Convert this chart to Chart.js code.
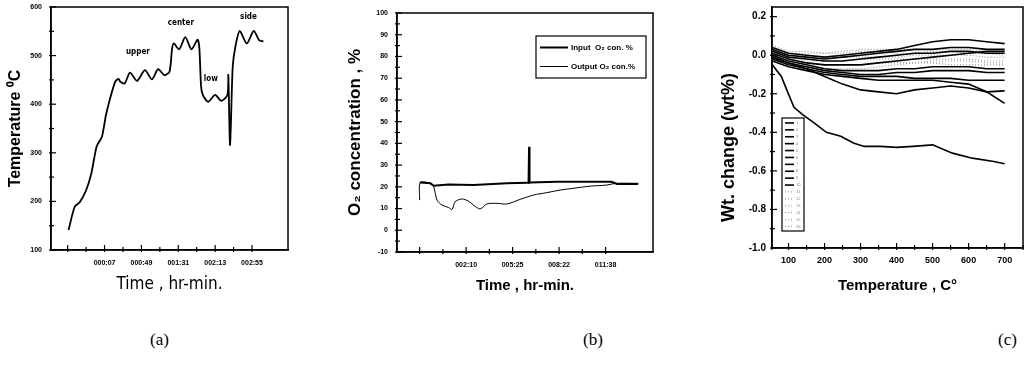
<!DOCTYPE html>
<html>
<head>
<meta charset="utf-8">
<script src="https://cdn.jsdelivr.net/npm/chart.js@4/dist/chart.umd.min.js"></script>
<style>
  body { margin: 0; background: #fff; width: 1026px; height: 374px; position: relative; overflow: hidden; }
  canvas { position: absolute; top: 0; }
  .cap { position: absolute; top: 330px; font: 17px 'Liberation Serif', 'DejaVu Serif', serif; color: #000; }
</style>
</head>
<body>
<canvas id="chartA" width="330" height="300" style="left:0"></canvas>
<canvas id="chartB" width="340" height="300" style="left:340px"></canvas>
<canvas id="chartC" width="346" height="300" style="left:680px"></canvas>
<div class="cap" style="left:150px">(a)</div>
<div class="cap" style="left:583px">(b)</div>
<div class="cap" style="left:998px">(c)</div>
<script>
// (a) temperature vs time, minutes
const aTime = [-34, -27, -21, -14, -8, -2, 4, 9, 19, 23, 25, 30, 36, 44, 53, 61, 68, 75, 81, 84, 86, 92, 99, 106, 113, 115, 117, 119, 125, 133, 140, 147, 148, 150, 153, 156, 161, 169, 177, 183, 188];
const aTemp = [141, 189, 199, 223, 258, 313, 333, 381, 446, 452, 446, 443, 465, 448, 470, 451, 472, 460, 467, 515, 525, 513, 538, 513, 533, 516, 436, 419, 405, 419, 407, 419, 460, 316, 477, 518, 551, 525, 551, 532, 529];
const aTickValues = [-35, 7, 49, 91, 133, 175];
const aTickLabels = ['', '000:07', '000:49', '001:31', '002:13', '002:55'];
const aNoteText = ['upper', 'center', 'low', 'side'];
const aNoteTime = [45, 94, 128, 171];
const aNoteTemp = [507, 567, 452, 580];

// (b) O2 concentration vs time, minutes
const bInputTime = [0, 3, 45, 59, 121, 226, 366, 449, 457, 459, 461, 463, 575, 805, 828, 917];
const bInput = [22, 22, 21.6, 20.5, 21.1, 20.8, 21.6, 21.9, 21.9, 38.4, 21.9, 22, 22.3, 22.3, 21.3, 21.3];
const bOutputTime = [0, 3, 45, 59, 73, 94, 121, 136, 149, 177, 205, 226, 254, 282, 324, 366, 421, 477, 533, 589, 644, 714, 784, 823, 917];
const bOutput = [13.9, 21.9, 21.6, 20, 13.9, 11.6, 10.5, 9.6, 13.1, 14.4, 13.4, 11.6, 9.8, 12.1, 12.4, 12.1, 14.2, 16.2, 17.3, 18.5, 19.3, 20.3, 20.8, 21.6, 21.6];
const bTickValues = [0, 195, 390, 585, 780];
const bTickLabels = ['', '002:10', '005:25', '008:22', '011:38'];

// (c) weight change vs temperature
const cTemp = [55, 100, 150, 200, 250, 300, 350, 400, 450, 500, 550, 600, 650, 700];
const c1 = [0.04, 0.01, 0.00, -0.01, 0.00, 0.01, 0.02, 0.03, 0.05, 0.07, 0.08, 0.08, 0.07, 0.06];
const c2 = [0.03, 0.00, -0.01, -0.02, -0.01, 0.00, 0.01, 0.02, 0.03, 0.03, 0.04, 0.04, 0.03, 0.03];
const c3 = [0.02, -0.01, -0.02, -0.03, -0.03, -0.02, -0.01, 0.00, 0.01, 0.01, 0.02, 0.02, 0.01, 0.01];
const c4 = [0.01, -0.02, -0.04, -0.05, -0.05, -0.05, -0.04, -0.03, -0.02, -0.01, 0.00, 0.01, 0.02, 0.02];
const c5 = [0.00, -0.03, -0.05, -0.07, -0.08, -0.08, -0.08, -0.07, -0.07, -0.06, -0.06, -0.06, -0.07, -0.07];
const c6 = [-0.01, -0.04, -0.06, -0.08, -0.09, -0.10, -0.10, -0.09, -0.09, -0.08, -0.08, -0.08, -0.09, -0.09];
const c7 = [-0.02, -0.05, -0.07, -0.09, -0.10, -0.11, -0.11, -0.11, -0.12, -0.12, -0.12, -0.13, -0.13, -0.13];
const c8 = [-0.03, -0.06, -0.08, -0.10, -0.11, -0.12, -0.13, -0.13, -0.13, -0.13, -0.14, -0.15, -0.19, -0.25];
const c9 = [-0.01, -0.04, -0.07, -0.11, -0.15, -0.18, -0.19, -0.20, -0.18, -0.17, -0.16, -0.17, -0.19, -0.185];
const c11 = [0.03, 0.01, 0.01, 0.01, 0.02, 0.03, 0.03, 0.03, 0.03, 0.03, 0.03, 0.03, 0.02, 0.02];
const c12 = [0.02, 0.00, -0.01, -0.01, -0.01, -0.01, -0.01, -0.01, 0.00, 0.00, 0.00, 0.00, -0.01, -0.01];
const c13 = [0.01, -0.02, -0.03, -0.03, -0.03, -0.02, -0.02, -0.02, -0.02, -0.02, -0.02, -0.02, -0.03, -0.03];
const c14 = [0.00, -0.03, -0.04, -0.05, -0.05, -0.05, -0.04, -0.04, -0.04, -0.04, -0.05, -0.05, -0.05, -0.05];
const c15 = [0.05, 0.02, 0.02, 0.01, 0.01, 0.02, 0.02, 0.01, 0.01, 0.02, 0.02, 0.01, 0.01, 0.00];
const c16 = [-0.02, -0.04, -0.06, -0.07, -0.07, -0.07, -0.06, -0.05, -0.04, -0.03, -0.03, -0.03, -0.04, -0.04];
const cLowTemp = [55, 80, 95, 115, 140, 170, 205, 245, 280, 310, 355, 400, 445, 500, 555, 610, 670, 700];
const cLow = [-0.05, -0.11, -0.18, -0.27, -0.31, -0.35, -0.40, -0.42, -0.455, -0.473, -0.473, -0.478, -0.473, -0.465, -0.508, -0.534, -0.551, -0.563];
const cLabels = ['1', '2', '3', '4', '5', '6', '7', '8', '9', '10', '11', '12', '13', '14', '15', '16'];
const cYTickValues = [-1.0, -0.8, -0.6, -0.4, -0.2, 0.0, 0.2];
const cYTickLabels = ['-1.0', '-0.8', '-0.6', '-0.4', '-0.2', '0.0', '0.2'];

Chart.defaults.font.family = "'Liberation Sans', Arial, sans-serif";
Chart.defaults.color = '#000';
Chart.defaults.animation = false;

// box round the plot, with inward tick marks taken from the scales
const frame = {
  id: 'frame',
  afterDraw(chart) {
    const { left, top, right, bottom } = chart.chartArea;
    const ctx = chart.ctx;
    ctx.save();
    ctx.strokeStyle = '#000';
    ctx.lineWidth = 1.5;
    ctx.strokeRect(left, top, right - left, bottom - top);
    ctx.lineWidth = 1.2;
    ['x', 'y'].forEach(id => {
      const s = chart.scales[id];
      s.ticks.forEach(t => {
        const major = t.major || (t.label !== '' && t.label !== undefined);
        const len = major ? 5 : 3;
        const p = s.getPixelForValue(t.value);
        ctx.beginPath();
        if (id === 'x') {
          ctx.moveTo(p, bottom + 2);
          ctx.lineTo(p, bottom - len);
        } else {
          ctx.moveTo(left - 2, p);
          ctx.lineTo(left + len, p);
        }
        ctx.stroke();
      });
    });
    ctx.restore();
  }
};

const notes = {
  id: 'notes',
  afterDatasetsDraw(chart, args, opts) {
    const ctx = chart.ctx;
    const xs = chart.scales.x, ys = chart.scales.y;
    ctx.save();
    ctx.font = opts.font;
    ctx.fillStyle = '#000';
    ctx.textAlign = 'center';
    ctx.textBaseline = 'middle';
    opts.text.forEach((t, i) => {
      ctx.fillText(t, xs.getPixelForValue(opts.x[i]), ys.getPixelForValue(opts.y[i]));
    });
    ctx.restore();
  }
};

const boxLegend = {
  id: 'boxLegend',
  afterDatasetsDraw(chart, args, o) {
    const ctx = chart.ctx;
    ctx.save();
    ctx.fillStyle = '#fff';
    ctx.fillRect(o.x, o.y, o.w, o.h);
    ctx.strokeStyle = '#000';
    ctx.lineWidth = o.borderWidth;
    ctx.strokeRect(o.x, o.y, o.w, o.h);
    chart.data.datasets.forEach((ds, i) => {
      const cy = o.y + o.pad + o.rowH * (i + 0.5);
      ctx.beginPath();
      ctx.setLineDash(ds.borderDash || []);
      ctx.lineWidth = ds.borderWidth;
      ctx.strokeStyle = ds.borderColor;
      ctx.moveTo(o.x + o.inset, cy);
      ctx.lineTo(o.x + o.inset + o.lineLen, cy);
      ctx.stroke();
      ctx.setLineDash([]);
      ctx.fillStyle = o.textColor;
      ctx.font = o.font;
      ctx.textBaseline = 'middle';
      ctx.fillText(ds.label, o.x + o.inset + o.lineLen + o.gap, cy);
    });
    ctx.restore();
  }
};

function pairs(xs, ys) {
  return xs.map((x, i) => ({ x: x, y: ys[i] }));
}

// the gap between axis and labels comes from an invisible tick, so the
// label padding does not push the plot area down
function axisBase(size, gap) {
  return {
    grid: { display: true, drawOnChartArea: false, drawTicks: true, tickLength: gap, tickColor: 'rgba(0,0,0,0)' },
    border: { display: true, color: '#000', width: 1.5 },
    ticks: { autoSkip: false, maxRotation: 0, padding: 0, font: { size: size, weight: 'bold' } }
  };
}

function majorMinor(values) {
  const out = [];
  values.forEach((v, i) => {
    out.push({ value: v, major: true });
    if (i < values.length - 1) out.push({ value: (v + values[i + 1]) / 2 });
  });
  return out;
}

function labelFor(values, labels) {
  return v => {
    const i = values.findIndex(t => Math.abs(t - v) < 1e-6);
    return i >= 0 ? labels[i] : '';
  };
}

// ---- (a)
const axA_x = axisBase(7, 9);
const axA_y = axisBase(7, 9);
new Chart(document.getElementById('chartA'), {
  type: 'line',
  data: {
    datasets: [{
      data: pairs(aTime, aTemp),
      borderColor: '#000',
      borderWidth: 1.8,
      pointRadius: 0,
      tension: 0.25
    }]
  },
  options: {
    responsive: false,
    layout: { padding: { top: 7, right: 42, left: 0, bottom: 0 } },
    plugins: {
      legend: { display: false },
      tooltip: { enabled: false },
      notes: { text: aNoteText, x: aNoteTime, y: aNoteTemp, font: "bold 8px 'DejaVu Sans Condensed', 'Liberation Sans', sans-serif" }
    },
    scales: {
      x: Object.assign(axA_x, {
        type: 'linear', min: -54, max: 216,
        afterBuildTicks: s => { s.ticks = majorMinor(aTickValues); },
        afterFit: s => { s.height = 50; },
        ticks: Object.assign(axA_x.ticks, { callback: labelFor(aTickValues, aTickLabels) }),
        title: { display: true, text: 'Time , hr-min.', padding: { bottom: 5 },
          font: { size: 17, family: "'DejaVu Sans Condensed', 'Liberation Sans', sans-serif" } }
      }),
      y: Object.assign(axA_y, {
        min: 100, max: 600,
        afterFit: s => { s.width = 51; },
        ticks: Object.assign(axA_y.ticks, { stepSize: 50, callback: v => (v % 100 === 0 ? v : '') }),
        title: { display: true, text: 'Temperature \u2070C', padding: { top: 6 }, font: { size: 16, weight: 'bold' } }
      })
    }
  },
  plugins: [frame, notes]
});

// ---- (b)
const axB_x = axisBase(7, 9);
const axB_y = axisBase(7, 9);
new Chart(document.getElementById('chartB'), {
  type: 'line',
  data: {
    datasets: [
      { label: 'Input  O\u2082 con. %', data: pairs(bInputTime, bInput), borderColor: '#000', borderWidth: 2, pointRadius: 0 },
      { label: 'Output O\u2082 con.%', data: pairs(bOutputTime, bOutput), borderColor: '#000', borderWidth: 1, pointRadius: 0, tension: 0.3 }
    ]
  },
  options: {
    responsive: false,
    layout: { padding: { top: 13, right: 27, left: 0, bottom: 0 } },
    plugins: {
      legend: { display: false },
      tooltip: { enabled: false },
      boxLegend: { x: 196, y: 36, w: 110, h: 42, pad: 2, rowH: 19, inset: 4, lineLen: 28, gap: 3,
        borderWidth: 1.2, textColor: '#000', font: "bold 8px 'Liberation Sans', sans-serif" }
    },
    scales: {
      x: Object.assign(axB_x, {
        type: 'linear', min: -95, max: 979,
        afterBuildTicks: s => { s.ticks = majorMinor(bTickValues); },
        afterFit: s => { s.height = 48; },
        ticks: Object.assign(axB_x.ticks, { callback: labelFor(bTickValues, bTickLabels) }),
        title: { display: true, text: 'Time , hr-min.', padding: { bottom: 5 }, font: { size: 15, weight: 'bold' } }
      }),
      y: Object.assign(axB_y, {
        min: -10, max: 100,
        afterFit: s => { s.width = 57; },
        ticks: Object.assign(axB_y.ticks, { stepSize: 5, callback: v => (v % 10 === 0 ? v : '') }),
        title: { display: true, text: 'O\u2082 concentration , %', padding: { top: 5 }, font: { size: 17, weight: 'bold' } }
      })
    }
  },
  plugins: [frame, boxLegend]
});

// ---- (c)
const cSolid = [c1, c2, c3, c4, c5, c6, c7, c8, c9];
const cDotted = [c11, c12, c13, c14, c15, c16];
const cDatasets = [];
cSolid.forEach(s => {
  cDatasets.push({ label: cLabels[cDatasets.length], data: pairs(cTemp, s), borderColor: '#000', borderWidth: 1.6, pointRadius: 0 });
});
cDatasets.push({ label: cLabels[cDatasets.length], data: pairs(cLowTemp, cLow), borderColor: '#000', borderWidth: 1.6, pointRadius: 0 });
cDotted.forEach(s => {
  cDatasets.push({ label: cLabels[cDatasets.length], data: pairs(cTemp, s), borderColor: '#999', borderWidth: 1.2, borderDash: [1, 2], pointRadius: 0 });
});

const axC_x = axisBase(9, 7);
const axC_y = axisBase(10, 6);
new Chart(document.getElementById('chartC'), {
  type: 'line',
  data: { datasets: cDatasets },
  options: {
    responsive: false,
    layout: { padding: { top: 7, right: 3, left: 0, bottom: 0 } },
    plugins: {
      legend: { display: false },
      tooltip: { enabled: false },
      boxLegend: { x: 102, y: 118, w: 22, h: 113, pad: 1.5, rowH: 6.9, inset: 3, lineLen: 9, gap: 2,
        borderWidth: 1.2, textColor: '#888', font: "4px 'Liberation Sans', sans-serif" }
    },
    scales: {
      x: Object.assign(axC_x, {
        type: 'linear', min: 54, max: 751,
        afterFit: s => { s.height = 52; },
        ticks: Object.assign(axC_x.ticks, { stepSize: 50, callback: v => (v % 100 === 0 ? v : '') }),
        title: { display: true, text: 'Temperature , C\u00b0', padding: { bottom: 5 }, font: { size: 15, weight: 'bold' } }
      }),
      y: Object.assign(axC_y, {
        min: -1.0, max: 0.25,
        afterBuildTicks: s => { s.ticks = majorMinor(cYTickValues); },
        afterFit: s => { s.width = 92; },
        ticks: Object.assign(axC_y.ticks, { callback: labelFor(cYTickValues, cYTickLabels) }),
        title: { display: true, text: 'Wt. change (wt%)        ', padding: { top: 38 }, font: { size: 18, weight: 'bold' } }
      })
    }
  },
  plugins: [frame, boxLegend]
});
</script>
</body>
</html>
